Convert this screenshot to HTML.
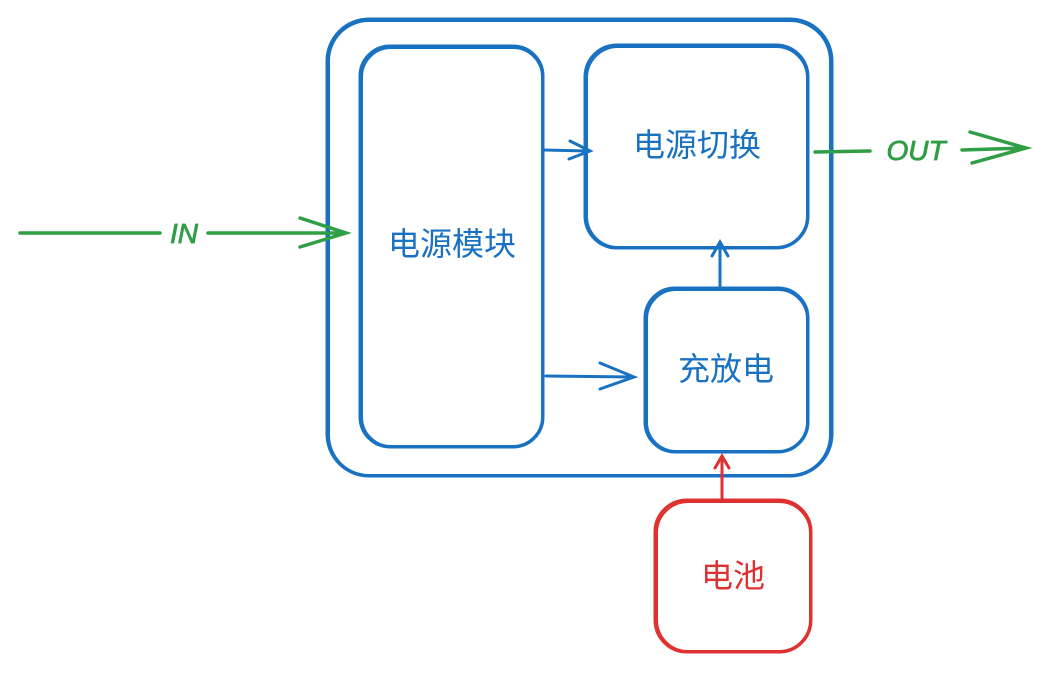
<!DOCTYPE html>
<html><head><meta charset="utf-8"><style>
html,body{margin:0;padding:0;background:#fff;}
svg text{font-family:"Liberation Sans","Noto Sans CJK SC",sans-serif;}
</style></head><body>
<svg width="1042" height="671" viewBox="0 0 1042 671" xmlns="http://www.w3.org/2000/svg">
<g fill="none" stroke="#1971c2" stroke-width="3" stroke-linecap="round">
<rect x="327" y="19" width="505" height="457" rx="42"/>
<rect x="329" y="21" width="501" height="454" rx="40" stroke-width="2"/>
<rect x="360" y="46" width="183" height="401" rx="30"/>
<rect x="362" y="48" width="180" height="398" rx="29" stroke-width="2"/>
<rect x="585" y="45" width="223" height="203" rx="32"/>
<rect x="587" y="47" width="220" height="200" rx="31" stroke-width="2"/>
<rect x="645" y="288" width="163" height="164" rx="30"/>
<rect x="647" y="290" width="160" height="161" rx="29" stroke-width="2"/>
<path d="M544 150 L588 151 M570 141 L590 151 L569 159"/>
<path d="M546 376 L633 377 M600 363 L634 377 L600 389"/>
<path d="M720 286 L720 244 M712 256 L720 242 L728 256"/>
</g>
<g fill="none" stroke="#2f9e44" stroke-width="3.5" stroke-linecap="round">
<path d="M20 233 L160 233 M208 233 L345 233 M300 218 L346 233 L300 247"/>
<path d="M815 152 L870 151 M962 150 L1025 148 M970 132 L1026 148 L972 163"/>
</g>
<g fill="none" stroke="#e03131" stroke-width="3" stroke-linecap="round">
<rect x="655" y="500" width="156" height="152" rx="32"/>
<rect x="657" y="502" width="153" height="149" rx="31" stroke-width="2"/>
<path d="M722 500 L722 458 M715 468 L722 456 L729 468"/>
</g>
<g font-size="32" fill="#1971c2" text-anchor="middle">
<text x="452" y="255">电源模块</text>
<text x="697" y="156">电源切换</text>
<text x="726" y="380">充放电</text>
</g>
<text x="733" y="587" font-size="32" fill="#e03131" text-anchor="middle">电池</text>
<g font-size="28" fill="#2f9e44" font-style="italic" text-anchor="middle" stroke="#2f9e44" stroke-width="0.8">
<text x="184" y="243">IN</text>
<text x="916" y="160">OUT</text>
</g>
</svg>
</body></html>
